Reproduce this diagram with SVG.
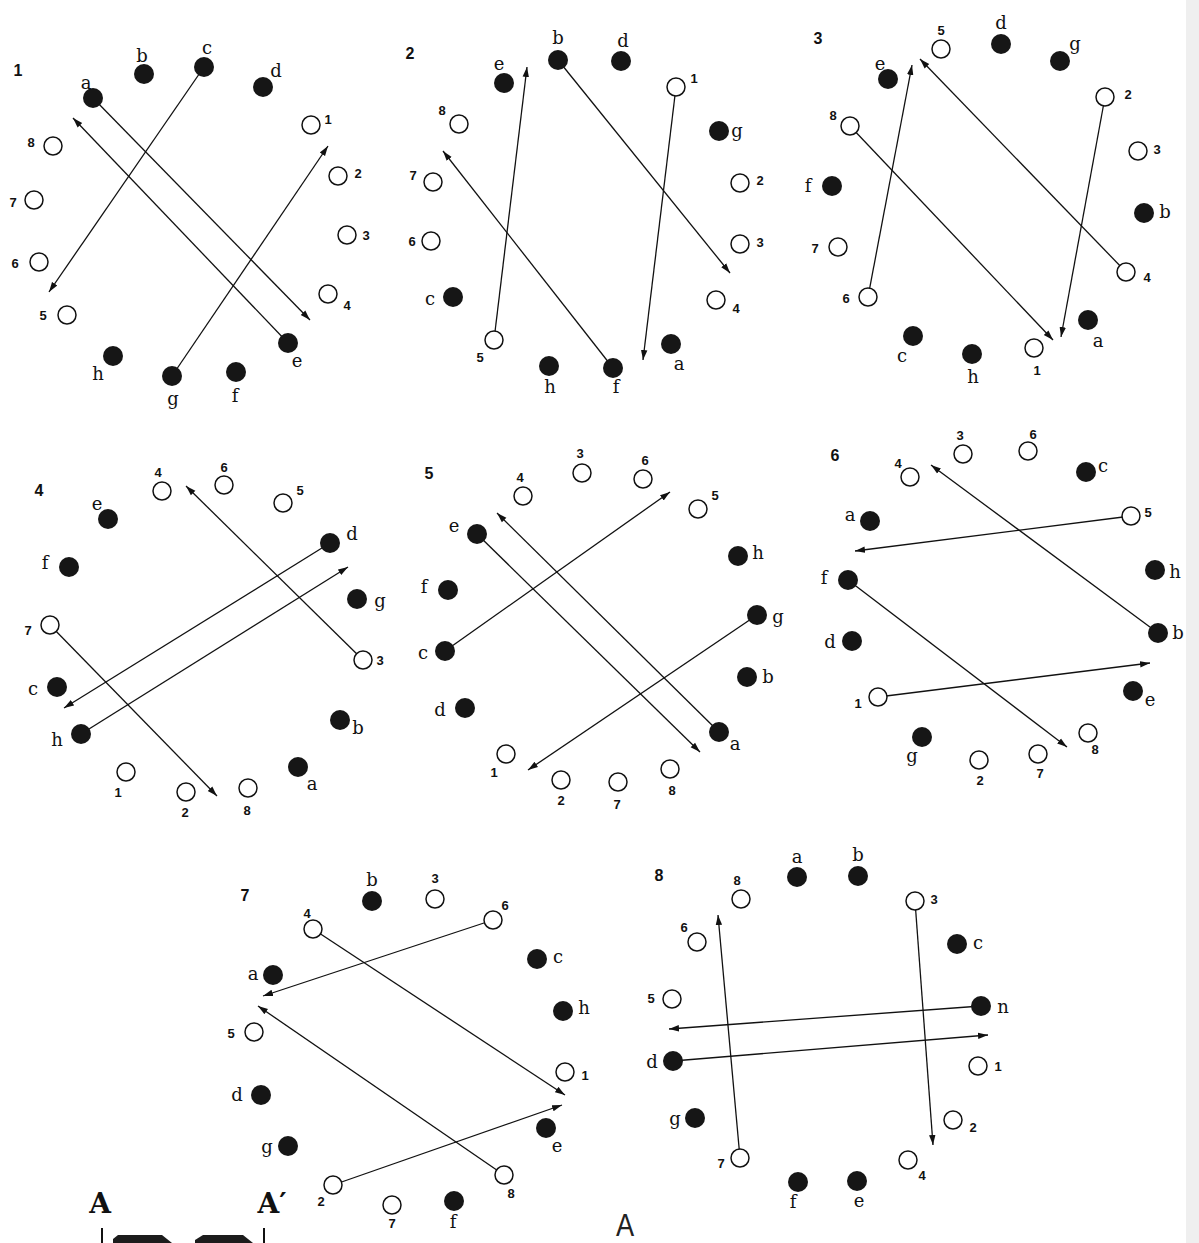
<svg xmlns="http://www.w3.org/2000/svg" width="1199" height="1243" viewBox="0 0 1199 1243">
<style>
.f{fill:#161616}
.o{fill:#fff;stroke:#111;stroke-width:1.5}
.L{font-family:"DejaVu Serif","Liberation Serif",serif;font-size:18px;fill:#111;text-anchor:middle;dominant-baseline:central}
.n{font-family:"Liberation Sans",sans-serif;font-size:13px;font-weight:bold;fill:#111;text-anchor:middle;dominant-baseline:central}
.P{font-family:"Liberation Sans",sans-serif;font-size:16px;font-weight:bold;fill:#111;text-anchor:middle;dominant-baseline:central}
.arr{fill:none;stroke:#111;stroke-width:1.3;marker-end:url(#ah)}
.S{font-family:"DejaVu Serif","Liberation Serif",serif;font-size:28px;font-weight:bold;fill:#111;text-anchor:middle}
</style>
<defs>
<marker id="ah" viewBox="0 -4 10 8" refX="10" refY="0" markerWidth="10" markerHeight="8" markerUnits="userSpaceOnUse" orient="auto"><path d="M0,-3.2 L10,0 L0,3.2 z" fill="#111"/></marker>
</defs>
<rect width="1199" height="1243" fill="#fff"/>
<rect x="1186" y="0" width="13" height="1243" fill="#efefef"/>

<g id="connectors">
<line class="arr" x1="93" y1="98" x2="310" y2="320"/>
<line class="arr" x1="288" y1="343" x2="73" y2="118"/>
<line class="arr" x1="204" y1="67" x2="49" y2="292"/>
<line class="arr" x1="172" y1="376" x2="328" y2="146"/>
<line class="arr" x1="494" y1="340" x2="527" y2="67"/>
<line class="arr" x1="558" y1="60" x2="730" y2="273"/>
<line class="arr" x1="676" y1="87" x2="643" y2="360"/>
<line class="arr" x1="613" y1="368" x2="443" y2="151"/>
<line class="arr" x1="868" y1="297" x2="912" y2="65"/>
<line class="arr" x1="1126" y1="272" x2="920" y2="59"/>
<line class="arr" x1="850" y1="126" x2="1053" y2="340"/>
<line class="arr" x1="1105" y1="97" x2="1061" y2="337"/>
<line class="arr" x1="363" y1="660" x2="186" y2="486"/>
<line class="arr" x1="330" y1="543" x2="64" y2="708"/>
<line class="arr" x1="81" y1="734" x2="348" y2="567"/>
<line class="arr" x1="50" y1="625" x2="217" y2="796"/>
<line class="arr" x1="445" y1="651" x2="670" y2="492"/>
<line class="arr" x1="719" y1="732" x2="497" y2="513"/>
<line class="arr" x1="477" y1="534" x2="700" y2="752"/>
<line class="arr" x1="757" y1="615" x2="528" y2="770"/>
<line class="arr" x1="1158" y1="633" x2="931" y2="465"/>
<line class="arr" x1="1131" y1="516" x2="855" y2="551"/>
<line class="arr" x1="848" y1="580" x2="1067" y2="747"/>
<line class="arr" x1="878" y1="697" x2="1150" y2="663"/>
<line class="arr" x1="493" y1="920" x2="263" y2="996"/>
<line class="arr" x1="313" y1="929" x2="565" y2="1095"/>
<line class="arr" x1="504" y1="1175" x2="258" y2="1006"/>
<line class="arr" x1="333" y1="1185" x2="562" y2="1105"/>
<line class="arr" x1="740" y1="1158" x2="718" y2="915"/>
<line class="arr" x1="915" y1="901" x2="933" y2="1145"/>
<line class="arr" x1="981" y1="1006" x2="669" y2="1029"/>
<line class="arr" x1="673" y1="1061" x2="988" y2="1035"/>
</g>

<!-- Panel 1 -->
<g id="p1-title"><text class="P" x="18" y="70">1</text></g>
<g id="p1-a"><circle class="f" cx="93" cy="98" r="10"/><text class="L" x="86" y="82">a</text></g>
<g id="p1-b"><circle class="f" cx="144" cy="74" r="10"/><text class="L" x="142" y="55">b</text></g>
<g id="p1-c"><circle class="f" cx="204" cy="67" r="10"/><text class="L" x="207" y="47">c</text></g>
<g id="p1-d"><circle class="f" cx="263" cy="87" r="10"/><text class="L" x="276" y="70">d</text></g>
<g id="p1-1"><circle class="o" cx="311" cy="125" r="9"/><text class="n" x="328" y="119">1</text></g>
<g id="p1-2"><circle class="o" cx="338" cy="176" r="9"/><text class="n" x="358" y="173">2</text></g>
<g id="p1-3"><circle class="o" cx="347" cy="235" r="9"/><text class="n" x="366" y="235">3</text></g>
<g id="p1-4"><circle class="o" cx="328" cy="294" r="9"/><text class="n" x="347" y="305">4</text></g>
<g id="p1-e"><circle class="f" cx="288" cy="343" r="10"/><text class="L" x="297" y="360">e</text></g>
<g id="p1-f"><circle class="f" cx="236" cy="372" r="10"/><text class="L" x="235" y="395">f</text></g>
<g id="p1-g"><circle class="f" cx="172" cy="376" r="10"/><text class="L" x="173" y="398">g</text></g>
<g id="p1-h"><circle class="f" cx="113" cy="356" r="10"/><text class="L" x="98" y="373">h</text></g>
<g id="p1-5"><circle class="o" cx="67" cy="315" r="9"/><text class="n" x="43" y="315">5</text></g>
<g id="p1-6"><circle class="o" cx="39" cy="262" r="9"/><text class="n" x="15" y="263">6</text></g>
<g id="p1-7"><circle class="o" cx="34" cy="200" r="9"/><text class="n" x="13" y="202">7</text></g>
<g id="p1-8"><circle class="o" cx="53" cy="146" r="9"/><text class="n" x="31" y="142">8</text></g>

<!-- Panel 2 -->
<g id="p2-title"><text class="P" x="410" y="53">2</text></g>
<g id="p2-b"><circle class="f" cx="558" cy="60" r="10"/><text class="L" x="558" y="37">b</text></g>
<g id="p2-d"><circle class="f" cx="621" cy="61" r="10"/><text class="L" x="623" y="40">d</text></g>
<g id="p2-e"><circle class="f" cx="504" cy="83" r="10"/><text class="L" x="499" y="63">e</text></g>
<g id="p2-1"><circle class="o" cx="676" cy="87" r="9"/><text class="n" x="694" y="78">1</text></g>
<g id="p2-8"><circle class="o" cx="459" cy="124" r="9"/><text class="n" x="442" y="110">8</text></g>
<g id="p2-g"><circle class="f" cx="719" cy="131" r="10"/><text class="L" x="737" y="130">g</text></g>
<g id="p2-7"><circle class="o" cx="433" cy="182" r="9"/><text class="n" x="413" y="175">7</text></g>
<g id="p2-2"><circle class="o" cx="740" cy="183" r="9"/><text class="n" x="760" y="180">2</text></g>
<g id="p2-6"><circle class="o" cx="431" cy="241" r="9"/><text class="n" x="412" y="241">6</text></g>
<g id="p2-3"><circle class="o" cx="740" cy="244" r="9"/><text class="n" x="760" y="242">3</text></g>
<g id="p2-c"><circle class="f" cx="453" cy="297" r="10"/><text class="L" x="430" y="298">c</text></g>
<g id="p2-4"><circle class="o" cx="716" cy="300" r="9"/><text class="n" x="736" y="308">4</text></g>
<g id="p2-5"><circle class="o" cx="494" cy="340" r="9"/><text class="n" x="480" y="357">5</text></g>
<g id="p2-a"><circle class="f" cx="671" cy="344" r="10"/><text class="L" x="679" y="363">a</text></g>
<g id="p2-h"><circle class="f" cx="549" cy="366" r="10"/><text class="L" x="550" y="386">h</text></g>
<g id="p2-f"><circle class="f" cx="613" cy="368" r="10"/><text class="L" x="616" y="386">f</text></g>

<!-- Panel 3 -->
<g id="p3-title"><text class="P" x="818" y="38">3</text></g>
<g id="p3-5"><circle class="o" cx="941" cy="49" r="9"/><text class="n" x="941" y="30">5</text></g>
<g id="p3-d"><circle class="f" cx="1001" cy="44" r="10"/><text class="L" x="1001" y="22">d</text></g>
<g id="p3-g"><circle class="f" cx="1060" cy="61" r="10"/><text class="L" x="1075" y="43">g</text></g>
<g id="p3-e"><circle class="f" cx="888" cy="79" r="10"/><text class="L" x="880" y="63">e</text></g>
<g id="p3-2"><circle class="o" cx="1105" cy="97" r="9"/><text class="n" x="1128" y="94">2</text></g>
<g id="p3-8"><circle class="o" cx="850" cy="126" r="9"/><text class="n" x="833" y="115">8</text></g>
<g id="p3-3"><circle class="o" cx="1138" cy="151" r="9"/><text class="n" x="1157" y="149">3</text></g>
<g id="p3-f"><circle class="f" cx="832" cy="186" r="10"/><text class="L" x="808" y="185">f</text></g>
<g id="p3-b"><circle class="f" cx="1144" cy="213" r="10"/><text class="L" x="1165" y="211">b</text></g>
<g id="p3-7"><circle class="o" cx="838" cy="247" r="9"/><text class="n" x="815" y="248">7</text></g>
<g id="p3-4"><circle class="o" cx="1126" cy="272" r="9"/><text class="n" x="1147" y="277">4</text></g>
<g id="p3-6"><circle class="o" cx="868" cy="297" r="9"/><text class="n" x="846" y="298">6</text></g>
<g id="p3-a"><circle class="f" cx="1088" cy="320" r="10"/><text class="L" x="1098" y="340">a</text></g>
<g id="p3-c"><circle class="f" cx="913" cy="336" r="10"/><text class="L" x="902" y="355">c</text></g>
<g id="p3-h"><circle class="f" cx="972" cy="354" r="10"/><text class="L" x="973" y="376">h</text></g>
<g id="p3-1"><circle class="o" cx="1034" cy="348" r="9"/><text class="n" x="1037" y="370">1</text></g>

<!-- Panel 4 -->
<g id="p4-title"><text class="P" x="39" y="490">4</text></g>
<g id="p4-4"><circle class="o" cx="162" cy="491" r="9"/><text class="n" x="158" y="472">4</text></g>
<g id="p4-6"><circle class="o" cx="224" cy="485" r="9"/><text class="n" x="224" y="467">6</text></g>
<g id="p4-5"><circle class="o" cx="283" cy="503" r="9"/><text class="n" x="300" y="490">5</text></g>
<g id="p4-e"><circle class="f" cx="108" cy="519" r="10"/><text class="L" x="97" y="503">e</text></g>
<g id="p4-d"><circle class="f" cx="330" cy="543" r="10"/><text class="L" x="352" y="533">d</text></g>
<g id="p4-f"><circle class="f" cx="69" cy="567" r="10"/><text class="L" x="45" y="562">f</text></g>
<g id="p4-g"><circle class="f" cx="357" cy="599" r="10"/><text class="L" x="380" y="600">g</text></g>
<g id="p4-7"><circle class="o" cx="50" cy="625" r="9"/><text class="n" x="28" y="630">7</text></g>
<g id="p4-3"><circle class="o" cx="363" cy="660" r="9"/><text class="n" x="380" y="660">3</text></g>
<g id="p4-c"><circle class="f" cx="57" cy="687" r="10"/><text class="L" x="33" y="688">c</text></g>
<g id="p4-b"><circle class="f" cx="340" cy="720" r="10"/><text class="L" x="358" y="727">b</text></g>
<g id="p4-h"><circle class="f" cx="81" cy="734" r="10"/><text class="L" x="57" y="739">h</text></g>
<g id="p4-1"><circle class="o" cx="126" cy="772" r="9"/><text class="n" x="118" y="792">1</text></g>
<g id="p4-a"><circle class="f" cx="298" cy="767" r="10"/><text class="L" x="312" y="783">a</text></g>
<g id="p4-2"><circle class="o" cx="186" cy="792" r="9"/><text class="n" x="185" y="812">2</text></g>
<g id="p4-8"><circle class="o" cx="248" cy="788" r="9"/><text class="n" x="247" y="810">8</text></g>

<!-- Panel 5 -->
<g id="p5-title"><text class="P" x="429" y="473">5</text></g>
<g id="p5-4"><circle class="o" cx="523" cy="496" r="9"/><text class="n" x="520" y="477">4</text></g>
<g id="p5-3"><circle class="o" cx="582" cy="473" r="9"/><text class="n" x="580" y="453">3</text></g>
<g id="p5-6"><circle class="o" cx="643" cy="479" r="9"/><text class="n" x="645" y="460">6</text></g>
<g id="p5-5"><circle class="o" cx="698" cy="509" r="9"/><text class="n" x="715" y="495">5</text></g>
<g id="p5-e"><circle class="f" cx="477" cy="534" r="10"/><text class="L" x="454" y="525">e</text></g>
<g id="p5-h"><circle class="f" cx="738" cy="556" r="10"/><text class="L" x="758" y="552">h</text></g>
<g id="p5-f"><circle class="f" cx="448" cy="590" r="10"/><text class="L" x="424" y="586">f</text></g>
<g id="p5-g"><circle class="f" cx="757" cy="615" r="10"/><text class="L" x="778" y="616">g</text></g>
<g id="p5-c"><circle class="f" cx="445" cy="651" r="10"/><text class="L" x="423" y="652">c</text></g>
<g id="p5-b"><circle class="f" cx="747" cy="677" r="10"/><text class="L" x="768" y="676">b</text></g>
<g id="p5-d"><circle class="f" cx="465" cy="708" r="10"/><text class="L" x="440" y="709">d</text></g>
<g id="p5-a"><circle class="f" cx="719" cy="732" r="10"/><text class="L" x="735" y="743">a</text></g>
<g id="p5-1"><circle class="o" cx="506" cy="754" r="9"/><text class="n" x="494" y="772">1</text></g>
<g id="p5-2"><circle class="o" cx="561" cy="780" r="9"/><text class="n" x="561" y="800">2</text></g>
<g id="p5-7"><circle class="o" cx="618" cy="782" r="9"/><text class="n" x="617" y="804">7</text></g>
<g id="p5-8"><circle class="o" cx="670" cy="769" r="9"/><text class="n" x="672" y="790">8</text></g>

<!-- Panel 6 -->
<g id="p6-title"><text class="P" x="835" y="455">6</text></g>
<g id="p6-3"><circle class="o" cx="963" cy="454" r="9"/><text class="n" x="960" y="435">3</text></g>
<g id="p6-6"><circle class="o" cx="1028" cy="451" r="9"/><text class="n" x="1033" y="434">6</text></g>
<g id="p6-4"><circle class="o" cx="910" cy="477" r="9"/><text class="n" x="898" y="463">4</text></g>
<g id="p6-c"><circle class="f" cx="1086" cy="472" r="10"/><text class="L" x="1103" y="465">c</text></g>
<g id="p6-a"><circle class="f" cx="870" cy="521" r="10"/><text class="L" x="850" y="514">a</text></g>
<g id="p6-5"><circle class="o" cx="1131" cy="516" r="9"/><text class="n" x="1148" y="512">5</text></g>
<g id="p6-f"><circle class="f" cx="848" cy="580" r="10"/><text class="L" x="824" y="577">f</text></g>
<g id="p6-h"><circle class="f" cx="1155" cy="570" r="10"/><text class="L" x="1175" y="571">h</text></g>
<g id="p6-d"><circle class="f" cx="852" cy="641" r="10"/><text class="L" x="830" y="641">d</text></g>
<g id="p6-b"><circle class="f" cx="1158" cy="633" r="10"/><text class="L" x="1178" y="632">b</text></g>
<g id="p6-1"><circle class="o" cx="878" cy="697" r="9"/><text class="n" x="858" y="703">1</text></g>
<g id="p6-e"><circle class="f" cx="1133" cy="691" r="10"/><text class="L" x="1150" y="699">e</text></g>
<g id="p6-g"><circle class="f" cx="922" cy="737" r="10"/><text class="L" x="912" y="755">g</text></g>
<g id="p6-8"><circle class="o" cx="1088" cy="733" r="9"/><text class="n" x="1095" y="749">8</text></g>
<g id="p6-2"><circle class="o" cx="979" cy="760" r="9"/><text class="n" x="980" y="780">2</text></g>
<g id="p6-7"><circle class="o" cx="1038" cy="754" r="9"/><text class="n" x="1040" y="773">7</text></g>

<!-- Panel 7 -->
<g id="p7-title"><text class="P" x="245" y="895">7</text></g>
<g id="p7-b"><circle class="f" cx="372" cy="901" r="10"/><text class="L" x="372" y="879">b</text></g>
<g id="p7-3"><circle class="o" cx="435" cy="899" r="9"/><text class="n" x="435" y="878">3</text></g>
<g id="p7-4"><circle class="o" cx="313" cy="929" r="9"/><text class="n" x="307" y="913">4</text></g>
<g id="p7-6"><circle class="o" cx="493" cy="920" r="9"/><text class="n" x="505" y="905">6</text></g>
<g id="p7-c"><circle class="f" cx="537" cy="959" r="10"/><text class="L" x="558" y="956">c</text></g>
<g id="p7-a"><circle class="f" cx="273" cy="975" r="10"/><text class="L" x="253" y="973">a</text></g>
<g id="p7-h"><circle class="f" cx="563" cy="1011" r="10"/><text class="L" x="584" y="1007">h</text></g>
<g id="p7-5"><circle class="o" cx="254" cy="1032" r="9"/><text class="n" x="231" y="1033">5</text></g>
<g id="p7-1"><circle class="o" cx="565" cy="1072" r="9"/><text class="n" x="585" y="1075">1</text></g>
<g id="p7-d"><circle class="f" cx="261" cy="1095" r="10"/><text class="L" x="237" y="1094">d</text></g>
<g id="p7-e"><circle class="f" cx="546" cy="1128" r="10"/><text class="L" x="557" y="1145">e</text></g>
<g id="p7-g"><circle class="f" cx="288" cy="1146" r="10"/><text class="L" x="267" y="1146">g</text></g>
<g id="p7-8"><circle class="o" cx="504" cy="1175" r="9"/><text class="n" x="511" y="1193">8</text></g>
<g id="p7-2"><circle class="o" cx="333" cy="1185" r="9"/><text class="n" x="321" y="1201">2</text></g>
<g id="p7-7"><circle class="o" cx="392" cy="1205" r="9"/><text class="n" x="392" y="1223">7</text></g>
<g id="p7-f"><circle class="f" cx="454" cy="1201" r="10"/><text class="L" x="453" y="1221">f</text></g>

<!-- Panel 8 -->
<g id="p8-title"><text class="P" x="659" y="875">8</text></g>
<g id="p8-a"><circle class="f" cx="797" cy="877" r="10"/><text class="L" x="797" y="856">a</text></g>
<g id="p8-b"><circle class="f" cx="858" cy="876" r="10"/><text class="L" x="858" y="854">b</text></g>
<g id="p8-8"><circle class="o" cx="741" cy="899" r="9"/><text class="n" x="737" y="880">8</text></g>
<g id="p8-3"><circle class="o" cx="915" cy="901" r="9"/><text class="n" x="934" y="899">3</text></g>
<g id="p8-6"><circle class="o" cx="697" cy="942" r="9"/><text class="n" x="684" y="927">6</text></g>
<g id="p8-c"><circle class="f" cx="957" cy="944" r="10"/><text class="L" x="978" y="942">c</text></g>
<g id="p8-5"><circle class="o" cx="672" cy="999" r="9"/><text class="n" x="651" y="998">5</text></g>
<g id="p8-n"><circle class="f" cx="981" cy="1006" r="10"/><text class="L" x="1003" y="1006">n</text></g>
<g id="p8-d"><circle class="f" cx="673" cy="1061" r="10"/><text class="L" x="652" y="1061">d</text></g>
<g id="p8-1"><circle class="o" cx="978" cy="1066" r="9"/><text class="n" x="998" y="1066">1</text></g>
<g id="p8-g"><circle class="f" cx="695" cy="1118" r="10"/><text class="L" x="675" y="1118">g</text></g>
<g id="p8-2"><circle class="o" cx="953" cy="1120" r="9"/><text class="n" x="973" y="1127">2</text></g>
<g id="p8-7"><circle class="o" cx="740" cy="1158" r="9"/><text class="n" x="721" y="1163">7</text></g>
<g id="p8-4"><circle class="o" cx="908" cy="1160" r="9"/><text class="n" x="922" y="1175">4</text></g>
<g id="p8-f"><circle class="f" cx="798" cy="1182" r="10"/><text class="L" x="793" y="1201">f</text></g>
<g id="p8-e"><circle class="f" cx="857" cy="1181" r="10"/><text class="L" x="859" y="1200">e</text></g>

<!-- Bottom fragment -->
<g id="section-AA">
<text class="S" x="100" y="1213">A</text>
<text class="S" x="272" y="1213">A′</text>
<line x1="102" y1="1228" x2="102" y2="1243" stroke="#111" stroke-width="2"/>
<line x1="264" y1="1228" x2="264" y2="1243" stroke="#111" stroke-width="2"/>
<polygon points="113,1243 113,1239 118,1235 162,1235 172,1243" fill="#1c1c1c"/>
<polygon points="195,1243 195,1240 203,1235 243,1235 253,1243" fill="#1c1c1c"/>
</g>
<g id="label-A"><text transform="translate(625,1236) scale(0.85,1)" x="0" y="0" font-family="Liberation Sans, sans-serif" font-size="32" text-anchor="middle" fill="#222">A</text></g>
</svg>
